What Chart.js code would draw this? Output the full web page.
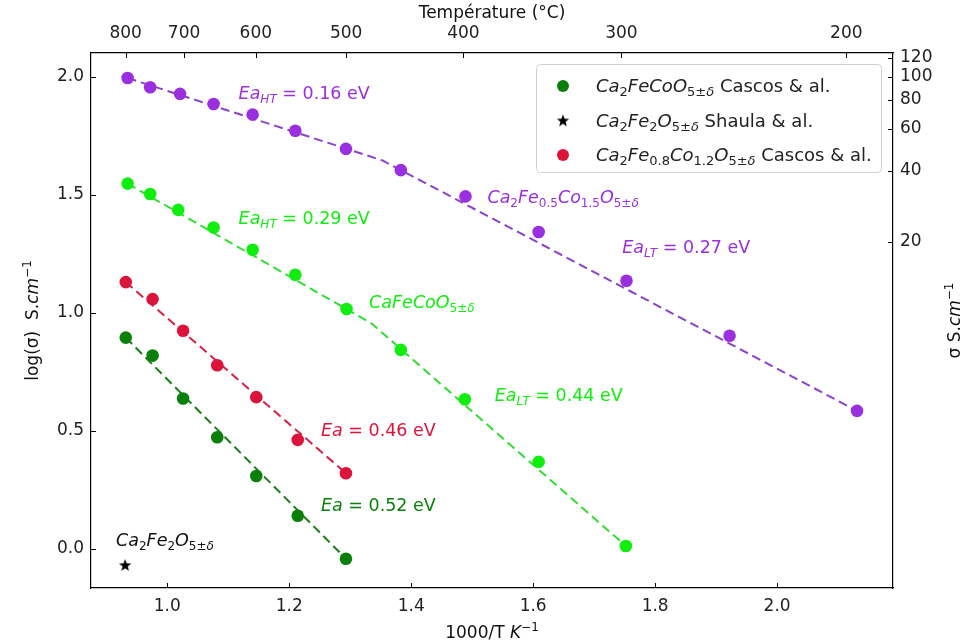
<!DOCTYPE html>
<html>
<head>
<meta charset="utf-8">
<script src="https://cdn.jsdelivr.net/npm/chart.js@4.4.0/dist/chart.umd.min.js"></script>
<style>
  body { margin: 0; background: #fff; }
  #wrap { width: 967px; height: 643px; }
</style>
</head>
<body>
<div id="wrap"><canvas id="chart" width="967" height="643"></canvas></div>
<script>
// valeurs (1000/T en K^-1, log(sigma) en S/cm)
const xSeven = [0.932, 0.976, 1.026, 1.082, 1.146, 1.214, 1.293];
const greenY = [0.895, 0.819, 0.637, 0.473, 0.309, 0.141, -0.041];
const redY = [1.130, 1.058, 0.924, 0.778, 0.643, 0.462, 0.321];

const purpleX = [0.935, 0.972, 1.021, 1.076, 1.140, 1.210, 1.293, 1.383, 1.489, 1.609, 1.753, 1.922, 2.131];
const purpleY = [1.994, 1.955, 1.927, 1.884, 1.839, 1.771, 1.694, 1.604, 1.493, 1.342, 1.136, 0.903, 0.585];

const limeX = [0.935, 0.972, 1.018, 1.076, 1.140, 1.210, 1.294, 1.383, 1.488, 1.609, 1.752];
const limeY = [1.547, 1.503, 1.436, 1.361, 1.267, 1.161, 1.016, 0.843, 0.634, 0.369, 0.013];

const starX = [0.931];
const starY = [-0.068];

// droites d'ajustement (extrémités et point de rupture)
const purpleFitX = [0.935, 1.353, 2.131];
const purpleFitY = [1.994, 1.645, 0.585];
const limeFitX = [0.935, 1.335, 1.752];
const limeFitY = [1.547, 0.955, 0.013];
const greenFitX = [0.932, 1.293];
const greenFitY = [0.895, -0.041];
const redFitX = [0.932, 1.293];
const redFitY = [1.130, 0.321];

// axes
const xTicks = [1.0, 1.2, 1.4, 1.6, 1.8, 2.0];
const yTicks = [0.0, 0.5, 1.0, 1.5, 2.0];
const topTemps = [800, 700, 600, 500, 400, 300, 200];
const rightTicks = [20, 40, 60, 80, 100, 120];
const xMin = 0.875, xMax = 2.19;
const yMin = -0.165, yMax = 2.10;

// couleurs
const cPurple = "#9a2fe0", cPurpleLine = "#8a42cc";
const cLime = "#10ee10", cLimeLine = "#33dd33";
const cRed = "#dc143c", cRedLine = "#d62045";
const cGreen = "#0a800a", cGreenLine = "#1a7d1a";

const FONT = "DejaVu Sans";
const TXT = 17.5; // annotations
const LEG = 18;   // légende
const AX = 17;    // titres et graduations

function pts(xs, ys) {
  return xs.map((x, i) => ({ x: x, y: ys[i] }));
}

// étoile pleine pour Shaula
const starImg = document.createElement("canvas");
starImg.width = 14; starImg.height = 14;
(function () {
  const c = starImg.getContext("2d");
  c.fillStyle = "#000";
  c.beginPath();
  for (let i = 0; i < 10; i++) {
    const r = i % 2 === 0 ? 6.5 : 2.7;
    const a = -Math.PI / 2 + i * Math.PI / 5;
    const px = 7 + r * Math.cos(a), py = 7.5 + r * Math.sin(a);
    if (i === 0) c.moveTo(px, py); else c.lineTo(px, py);
  }
  c.closePath();
  c.fill();
})();

// texte "mathtext" : italique, indices, exposants
function drawRich(ctx, x, y, parts, color, size, align) {
  const fonts = {
    n: [size + "px " + FONT, 0],
    i: ["italic " + size + "px " + FONT, 0],
    b: [Math.round(size * 0.7) + "px " + FONT, size * 0.22],
    bi: ["italic " + Math.round(size * 0.7) + "px " + FONT, size * 0.22],
    p: [Math.round(size * 0.7) + "px " + FONT, -size * 0.42],
  };
  let w = 0;
  parts.forEach(p => { ctx.font = fonts[p[1]][0]; w += ctx.measureText(p[0]).width; });
  let cx = x;
  if (align === "center") cx = x - w / 2;
  const base = y + size * 0.36;
  ctx.fillStyle = color;
  ctx.textBaseline = "alphabetic";
  ctx.textAlign = "left";
  parts.forEach(p => {
    ctx.font = fonts[p[1]][0];
    ctx.fillText(p[0], cx, base + fonts[p[1]][1]);
    cx += ctx.measureText(p[0]).width;
  });
}

// annotations : [x, y, morceaux, couleur]
const notes = [
  [1.117, 1.932, [["Ea", "i"], ["HT", "bi"], [" = 0.16 eV", "n"]], cPurple],
  [1.117, 1.403, [["Ea", "i"], ["HT", "bi"], [" = 0.29 eV", "n"]], cLime],
  [1.331, 1.047, [["CaFeCoO", "i"], ["5±", "b"], ["δ", "bi"]], cLime],
  [1.525, 1.492, [["Ca", "i"], ["2", "b"], ["Fe", "i"], ["0.5", "b"], ["Co", "i"], ["1.5", "b"], ["O", "i"], ["5±", "b"], ["δ", "bi"]], cPurple],
  [1.746, 1.280, [["Ea", "i"], ["LT", "bi"], [" = 0.27 eV", "n"]], cPurple],
  [1.537, 0.653, [["Ea", "i"], ["LT", "bi"], [" = 0.44 eV", "n"]], cLime],
  [1.252, 0.504, [["Ea", "i"], [" = 0.46 eV", "n"]], cRed],
  [1.252, 0.186, [["Ea", "i"], [" = 0.52 eV", "n"]], cGreen],
  [0.916, 0.038, [["Ca", "i"], ["2", "b"], ["Fe", "i"], ["2", "b"], ["O", "i"], ["5±", "b"], ["δ", "bi"]], "#111"],
];

const legendItems = [
  ["circle", cGreen, [["Ca", "i"], ["2", "b"], ["FeCoO", "i"], ["5±", "b"], ["δ", "bi"], [" Cascos & al.", "n"]]],
  ["star", "#000", [["Ca", "i"], ["2", "b"], ["Fe", "i"], ["2", "b"], ["O", "i"], ["5±", "b"], ["δ", "bi"], [" Shaula & al.", "n"]]],
  ["circle", cRed, [["Ca", "i"], ["2", "b"], ["Fe", "i"], ["0.8", "b"], ["Co", "i"], ["1.2", "b"], ["O", "i"], ["5±", "b"], ["δ", "bi"], [" Cascos & al.", "n"]]],
];

const decorPlugin = {
  id: "decor",
  afterDatasetsDraw(chart) {
    const ctx = chart.ctx;
    const a = chart.chartArea;
    const sc = chart.scales;
    ctx.save();

    // graduations vers l'intérieur
    ctx.strokeStyle = "#000";
    ctx.lineWidth = 1;
    const L = 5;
    sc.x.ticks.forEach(t => {
      const p = Math.round(sc.x.getPixelForValue(t.value)) + 0.5;
      ctx.beginPath(); ctx.moveTo(p, a.bottom); ctx.lineTo(p, a.bottom - L); ctx.stroke();
    });
    sc.xT.ticks.forEach(t => {
      const p = Math.round(sc.xT.getPixelForValue(t.value)) + 0.5;
      ctx.beginPath(); ctx.moveTo(p, a.top); ctx.lineTo(p, a.top + L); ctx.stroke();
    });
    sc.y.ticks.forEach(t => {
      const p = Math.round(sc.y.getPixelForValue(t.value)) + 0.5;
      ctx.beginPath(); ctx.moveTo(a.left, p); ctx.lineTo(a.left + L, p); ctx.stroke();
    });
    sc.yR.ticks.forEach(t => {
      const p = Math.round(sc.yR.getPixelForValue(t.value)) + 0.5;
      ctx.beginPath(); ctx.moveTo(a.right, p); ctx.lineTo(a.right - L, p); ctx.stroke();
    });

    // annotations
    notes.forEach(n => {
      drawRich(ctx, sc.x.getPixelForValue(n[0]), sc.y.getPixelForValue(n[1]), n[2], n[3], TXT);
    });

    // légende
    const lx = a.right - 357, ly = a.top + 11, lw = 345, lh = 108;
    ctx.fillStyle = "rgba(255,255,255,0.85)";
    ctx.strokeStyle = "#d0d0d0";
    ctx.lineWidth = 1;
    ctx.beginPath();
    ctx.roundRect(lx + 0.5, ly + 0.5, lw, lh, 4);
    ctx.fill(); ctx.stroke();
    legendItems.forEach((it, i) => {
      const cy = ly + 22 + i * 34.5;
      if (it[0] === "circle") {
        ctx.fillStyle = it[1];
        ctx.beginPath(); ctx.arc(lx + 27, cy, 6, 0, Math.PI * 2); ctx.fill();
      } else {
        ctx.drawImage(starImg, lx + 20, cy - 7);
      }
      drawRich(ctx, lx + 60, cy, it[2], "#222", LEG);
    });

    // titres d'axes
    const midX = (a.left + a.right) / 2;
    const midY = (a.top + a.bottom) / 2;
    drawRich(ctx, midX, 632, [["1000/T ", "n"], ["K", "i"], ["−1", "p"]], "#111", AX, "center");
    drawRich(ctx, midX, 12, [["Température (°C)", "n"]], "#111", AX, "center");
    ctx.save();
    ctx.translate(32, midY);
    ctx.rotate(-Math.PI / 2);
    drawRich(ctx, 0, 0, [["log(σ)  S.", "n"], ["cm", "i"], ["−1", "p"]], "#111", AX, "center");
    ctx.restore();
    ctx.save();
    ctx.translate(954, midY);
    ctx.rotate(-Math.PI / 2);
    drawRich(ctx, 0, 0, [["σ S.", "n"], ["cm", "i"], ["−1", "p"]], "#111", AX, "center");
    ctx.restore();

    ctx.restore();
  },
};

function ptSet(label, xs, ys, color, style) {
  return {
    label: label,
    data: pts(xs, ys),
    backgroundColor: color,
    borderColor: color,
    pointRadius: 6.3,
    pointHoverRadius: 6.3,
    pointStyle: style || "circle",
    borderWidth: 0,
    showLine: false,
    order: 1,
  };
}

function fitSet(xs, ys, color) {
  return {
    data: pts(xs, ys),
    borderColor: color,
    borderWidth: 2,
    borderDash: [9, 5],
    pointRadius: 0,
    showLine: true,
    fill: false,
    tension: 0,
    order: 2,
  };
}

const tickFont = { family: FONT, size: AX };

new Chart(document.getElementById("chart"), {
  type: "scatter",
  data: {
    datasets: [
      ptSet("Ca2Fe0.5Co1.5O5", purpleX, purpleY, cPurple),
      ptSet("CaFeCoO5", limeX, limeY, cLime),
      ptSet("Ca2Fe0.8Co1.2O5", xSeven, redY, cRed),
      ptSet("Ca2FeCoO5", xSeven, greenY, cGreen),
      Object.assign(ptSet("Ca2Fe2O5", starX, starY, "#000", starImg), { pointRadius: 7 }),
      fitSet(purpleFitX, purpleFitY, cPurpleLine),
      fitSet(limeFitX, limeFitY, cLimeLine),
      fitSet(redFitX, redFitY, cRedLine),
      fitSet(greenFitX, greenFitY, cGreenLine),
    ],
  },
  options: {
    responsive: false,
    animation: false,
    layout: { padding: 0 },
    plugins: { legend: { display: false }, tooltip: { enabled: false } },
    scales: {
      x: {
        type: "linear", position: "bottom", min: xMin, max: xMax,
        afterBuildTicks: s => { s.ticks = xTicks.map(v => ({ value: v })); },
        afterFit: s => { s.height = 55; },
        ticks: { font: tickFont, color: "#222", padding: 8, callback: v => v.toFixed(1) },
        grid: { display: true, drawOnChartArea: false, drawTicks: false },
        border: { display: true, color: "#000", width: 1.2 },
      },
      xT: {
        type: "linear", position: "top", min: xMin, max: xMax,
        afterBuildTicks: s => { s.ticks = topTemps.map(t => ({ value: 1000 / (t + 273.15) })); },
        afterFit: s => { s.height = 53; },
        ticks: { font: tickFont, color: "#222", padding: 9, autoSkip: false, maxRotation: 0, callback: (v, i) => String(topTemps[i]) },
        grid: { display: true, drawOnChartArea: false, drawTicks: false },
        border: { display: true, color: "#000", width: 1.2 },
      },
      y: {
        type: "linear", position: "left", min: yMin, max: yMax,
        afterBuildTicks: s => { s.ticks = yTicks.map(v => ({ value: v })); },
        afterFit: s => { s.width = 91; },
        ticks: { font: tickFont, color: "#222", padding: 7, callback: v => v.toFixed(1) },
        grid: { display: true, drawOnChartArea: false, drawTicks: false },
        border: { display: true, color: "#000", width: 1.2 },
      },
      yR: {
        type: "logarithmic", position: "right", min: Math.pow(10, yMin), max: Math.pow(10, yMax),
        afterBuildTicks: s => { s.ticks = rightTicks.map(v => ({ value: v })); },
        afterFit: s => { s.width = 74; },
        ticks: { font: tickFont, color: "#222", padding: 7, autoSkip: false, callback: v => String(v) },
        grid: { display: true, drawOnChartArea: false, drawTicks: false },
        border: { display: true, color: "#000", width: 1.2 },
      },
    },
  },
  plugins: [decorPlugin],
});
</script>
</body>
</html>
